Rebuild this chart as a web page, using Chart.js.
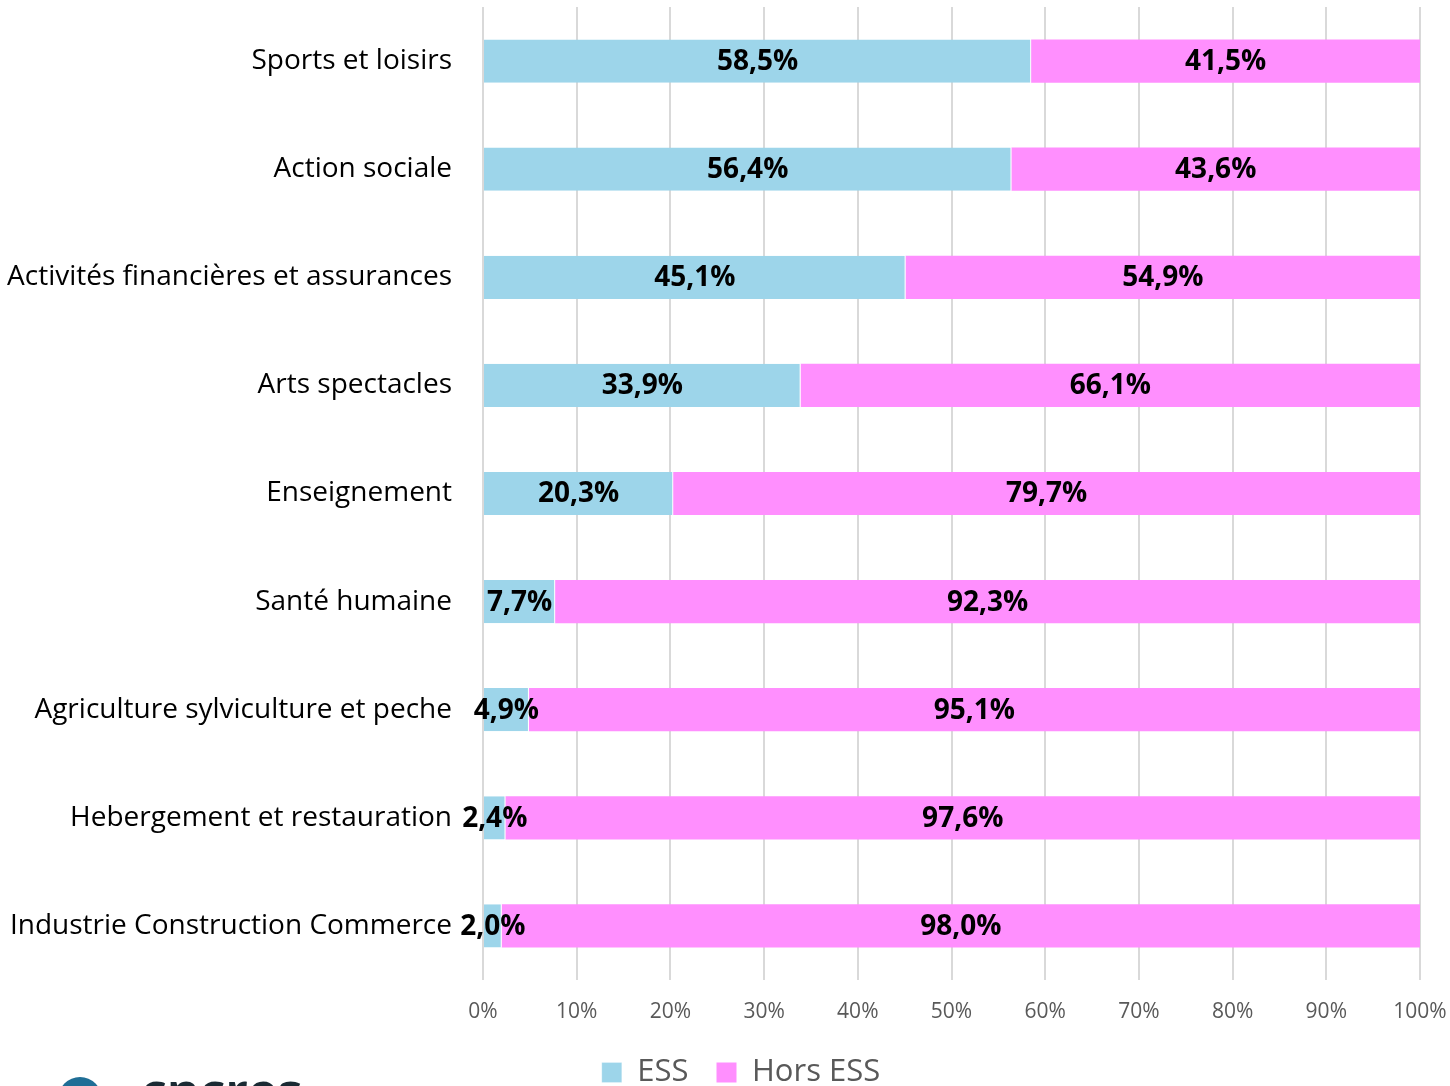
<!DOCTYPE html>
<html lang="fr">
<head>
<meta charset="utf-8">
<title>ESS / Hors ESS par secteur</title>
<script src="https://cdn.jsdelivr.net/npm/chart.js@4"></script>
<style>
  html, body { margin: 0; padding: 0; background: #fff; overflow: hidden; }
  #wrap { position: relative; width: 1450px; height: 1098px; }
  #dot { position: absolute; left: 58px; top: 1077px; width: 44px; height: 44px; border-radius: 50%; background: #1f6e96; }
  #logo { position: absolute; left: 141px; top: 1065px; font: bold 50px 'Open Sans', sans-serif; color: #1a2a33; line-height: 1; }
</style>
</head>
<body>
<div id="wrap">
  <canvas id="chart" width="1450" height="1098"></canvas>
  <div id="dot"></div>
  <div id="logo">cncres</div>
</div>
<script>
// Data
const categories = [
  'Sports et loisirs',
  'Action sociale',
  'Activités financières et assurances',
  'Arts spectacles',
  'Enseignement',
  'Santé humaine',
  'Agriculture sylviculture et peche',
  'Hebergement et restauration',
  'Industrie Construction Commerce'
];
const essValues = [58.5, 56.4, 45.1, 33.9, 20.3, 7.7, 4.9, 2.4, 2.0];
const horsEssValues = [41.5, 43.6, 54.9, 66.1, 79.7, 92.3, 95.1, 97.6, 98.0];
const xTicks = [0, 10, 20, 30, 40, 50, 60, 70, 80, 90, 100];

const fontFamily = "'Open Sans', sans-serif";
const fmt = v => v.toFixed(1).replace('.', ',') + '%';

// draws the value in the middle of each segment
const barLabels = {
  id: 'barLabels',
  afterDatasetsDraw(chart) {
    const ctx = chart.ctx;
    ctx.save();
    ctx.font = 'bold 28px ' + fontFamily;
    ctx.fillStyle = '#000';
    ctx.textAlign = 'center';
    ctx.textBaseline = 'middle';
    chart.data.datasets.forEach((ds, i) => {
      chart.getDatasetMeta(i).data.forEach((bar, j) => {
        const p = bar.getProps(['x', 'y', 'base'], true);
        ctx.fillText(fmt(ds.data[j]), (p.x + p.base) / 2, p.y + 1);
      });
    });
    ctx.restore();
  }
};

// nudge the legend to the right, like in the original sheet
const legendShift = {
  id: 'legendShift',
  afterLayout(chart) {
    chart.legend.left += 31;
    chart.legend.right += 31;
  }
};

new Chart(document.getElementById('chart'), {
  type: 'bar',
  data: {
    labels: categories,
    datasets: [
      { label: 'ESS', data: essValues, backgroundColor: '#9dd5ea', borderColor: '#fff', borderWidth: { right: 1 }, borderSkipped: false },
      { label: 'Hors ESS', data: horsEssValues, backgroundColor: '#ff8ffe', borderWidth: 0 }
    ]
  },
  options: {
    indexAxis: 'y',
    responsive: false,
    animation: false,
    barPercentage: 0.4,
    categoryPercentage: 1,
    layout: { padding: { top: 7, right: 30, left: 0, bottom: 0 } },
    scales: {
      x: {
        stacked: true,
        min: 0,
        max: 100,
        afterBuildTicks: s => { s.ticks = xTicks.map(v => ({ value: v })); },
        afterFit: s => { s.height = 49; s.paddingLeft = 0; s.paddingRight = 0; },
        grid: { color: '#d9d9d9', lineWidth: 2, drawTicks: false },
        border: { display: false },
        ticks: { padding: 19, color: '#595959', font: { family: fontFamily, size: 21 }, callback: v => v + '%' }
      },
      y: {
        stacked: true,
        afterFit: s => { s.width = 483; s.paddingTop = 0; s.paddingBottom = 0; },
        grid: { display: false },
        border: { display: false },
        ticks: { padding: 23, color: '#000', font: { family: fontFamily, size: 28 } }
      }
    },
    plugins: {
      legend: {
        position: 'bottom',
        labels: { color: '#595959', boxWidth: 20, boxHeight: 20, padding: 28, font: { family: fontFamily, size: 31 } }
      },
      tooltip: { enabled: false }
    }
  },
  plugins: [barLabels, legendShift]
});
</script>
</body>
</html>
